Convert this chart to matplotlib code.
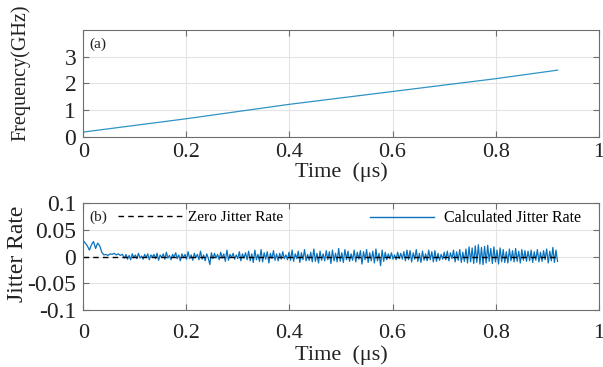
import numpy as np
import matplotlib
matplotlib.use("Agg")
import matplotlib.pyplot as plt
from matplotlib.lines import Line2D

# ---- data ----
freq_time = [0.0, 0.2, 0.4, 0.6, 0.8, 0.92]          # us
freq_ghz = [0.18, 0.68, 1.22, 1.70, 2.18, 2.50]       # GHz

# jitter rate in units of 1e-3, start transient (0 .. 0.08 us)
jitter_start = [30, 25, 20, 12, 22, 28, 15, 25, 20, 8,
                3, 4, 2, 5, 4, 6, 3, 5, 2, 4]
# jitter rate in units of 1e-3, 0.08 .. 0.92 us
jitter_noise = [
    -3, 4, -5, 2, -6, 5, -2, 3, -4, 6, -3, 1, -5, 4, -2, 5, -6, 3, -1, 4,
    -4, 6, -7, 3, -2, 5, -5, 8, -3, 2, -6, 4, -1, 7, -4, 3, -8, 5, -2, 4,
    -5, 9, -4, 3, -7, 6, -2, 4, -6, 10, -5, 3, -8, 5, -3, -15, 7, -4, 6, -3,
    4, -6, 8, -3, 5, -9, 12, -7, 4, -2, 6, -5, 3, -4, 9, -8, 5, -3, 7, -6,
    10, -8, 5, -11, 12, -6, 4, -9, 13, -10, 7, -5, 9, -12, 6, -4, 11, -7, 5, -8,
    6, -5, 9, -4, 3, -6, 8, -7, 12, -9, 5, -4, 10, -11, 7, -6, 13, -8, 4, -7,
    8, -10, 14, -9, 6, -12, 10, -7, 5, -8, 11, -6, 9, -13, 12, -8, 6, -10, 15, -9,
    7, -11, 13, -6, 10, -9, 5, -7, 12, -10, 8, -5, 11, -14, 9, -6, 13, -11, 7, -8,
    10, -12, 14, -8, 6, -17, 12, -9, 8, -6, 5, -4, 7, -5, 3, -6, 8, -4, 6, -5,
    9, -8, 12, -6, 11, -10, 7, -5, 13, -9, 6, -11, 10, -7, 5, -8, 12, -6, 9, -10,
    11, -9, 6, -7, 4, -5, 8, -6, 10, -8, 7, -4, 12, -10, 9, -7, 13, -11, 8, -9,
    14, -12, 18, -10, 16, -13, 20, -11, 22, -14, 17, -15, 19, -12, 21, -9, 15, -13, 18, -10,
    12, -14, 16, -10, 13, -11, 9, -12, 14, -8, 11, -10, 15, -9, 10, -12, 13, -7, 11, -9,
    10, -8, 12, -11, 9, -7, 13, -10, 8, -9, 11, -6, 14, -12, 10, -8, 17, -11, 12, -9,
]
t_end = 0.92

# time grid for the jitter samples
t_start = np.linspace(0.0, 0.08, len(jitter_start), endpoint=False)
t_noise = np.linspace(0.08, t_end, len(jitter_noise))
jit_t = np.concatenate([t_start, t_noise])
jit_v = np.array(jitter_start + jitter_noise) * 1e-3

# ---- style ----
plt.rcParams['font.family'] = ['Liberation Serif', 'DejaVu Serif']
axis_col = '#6e6e6e'
text_col = '#222222'
line_col = '#0a72bd'

fig = plt.figure(figsize=(6.03, 3.67), dpi=100)
ax1 = fig.add_axes([0.138, 0.627, 0.855, 0.291])
ax2 = fig.add_axes([0.138, 0.155, 0.855, 0.292])

def style_axes(ax, xpad, labelpad):
    for s in ax.spines.values():
        s.set_color(axis_col)
        s.set_linewidth(0.8)
    ax.tick_params(direction='in', top=True, right=True, length=4,
                   color=axis_col, labelcolor=text_col)
    ax.tick_params(axis='x', labelsize=16, pad=xpad)
    ax.tick_params(axis='y', labelsize=17, pad=5)
    ax.grid(True, color='#e3e3e3', linewidth=0.8)
    ax.set_axisbelow(True)
    ax.set_xlim(0, 1)
    ax.set_xticks([0, 0.2, 0.4, 0.6, 0.8, 1])
    ax.set_xticklabels(['0', '0.2', '0.4', '0.6', '0.8', '1'])
    ax.set_xlabel('Time  (μs)', fontsize=16, labelpad=labelpad, color=text_col)

# (a) frequency
ax1.plot(freq_time, freq_ghz, color='#2f93c4', linewidth=0.9)
style_axes(ax1, xpad=4.2, labelpad=0.5)
ax1.set_ylim(0, 4)
ax1.set_yticks([0, 1, 2, 3])
ax1.set_ylabel('Frequency(GHz)', fontsize=14.5, color=text_col)
ax1.yaxis.set_label_coords(-0.103, 0.60)
ax1.text(0.012, 0.93, '(a)', transform=ax1.transAxes, fontsize=11,
         va='top', ha='left', color=text_col)

# (b) jitter rate
ax2.plot(jit_t, jit_v, color=line_col, linewidth=0.9)
ax2.plot([0, t_end], [0, 0], color='black', linestyle=(0, (4, 3)), linewidth=1.0)
style_axes(ax2, xpad=10, labelpad=1.8)
ax2.set_ylim(-0.1, 0.1)
ax2.set_yticks([-0.1, -0.05, 0, 0.05, 0.1])
ax2.set_yticklabels(['-0.1', '-0.05', '0', '0.05', '0.1'])
ax2.set_ylabel('Jitter Rate', fontsize=17, color=text_col)
ax2.yaxis.set_label_coords(-0.107, 0.523)
ax2.text(0.012, 0.93, '(b)', transform=ax2.transAxes, fontsize=11,
         va='top', ha='left', color=text_col)

zero_h = Line2D([], [], color='black', linestyle=(0, (4, 3)), linewidth=1.0)
calc_h = Line2D([], [], color=line_col, linewidth=1.0)
leg1 = ax2.legend([zero_h], ['Zero Jitter Rate'], loc='upper left',
                  bbox_to_anchor=(0.04, 1.06), frameon=False, fontsize=11,
                  handlelength=4.2, handletextpad=0.4)
ax2.add_artist(leg1)
ax2.legend([calc_h], ['Calculated Jitter Rate'], loc='upper right',
           bbox_to_anchor=(0.993, 1.065), frameon=False, fontsize=11.5,
           handlelength=4.0, handletextpad=0.6)

fig.savefig('out.png', dpi=100)
